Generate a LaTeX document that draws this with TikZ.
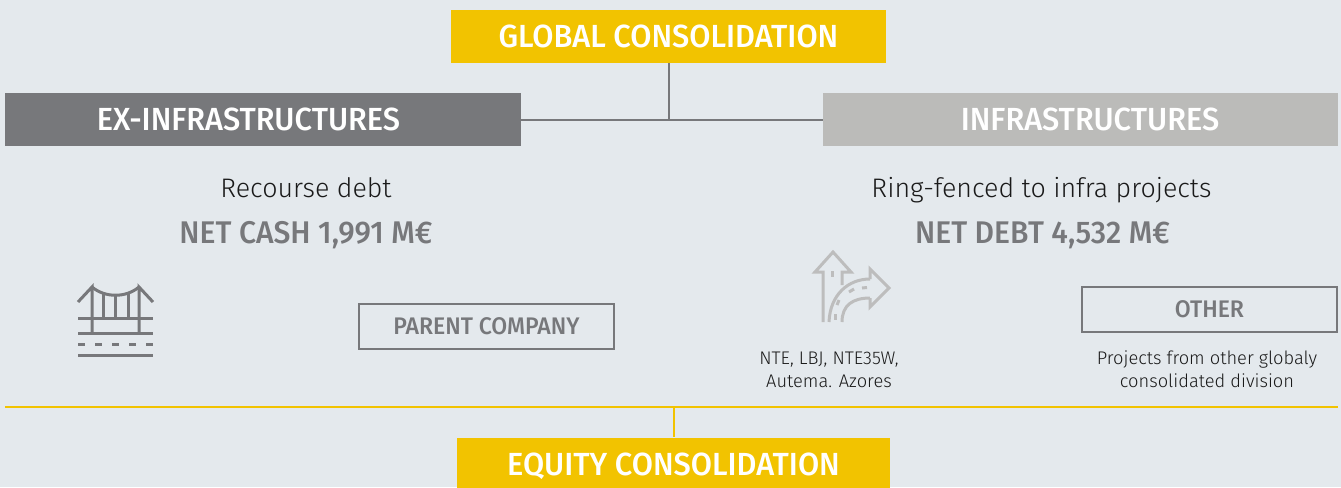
\documentclass[tikz,border=0pt]{standalone}
\usepackage{fontspec}
\setmainfont{Fira Sans}
\newfontfamily\medfont{Fira Sans Medium}[FakeStretch=0.96]
\newfontfamily\lightfont{Fira Sans Light}
\definecolor{bgc}{HTML}{E4E9ED}
\definecolor{ylw}{HTML}{F2C300}
\definecolor{dgrey}{HTML}{77787B}
\definecolor{lgrey}{HTML}{BBBBB9}
\definecolor{icong}{HTML}{BDBDBD}
\definecolor{txt}{HTML}{1A1A1A}
\tikzset{
  hdr/.style={inner sep=0pt, text=white, text height=16.5pt, text depth=0pt,
    font=\medfont\fontsize{24}{28}\selectfont},
  ybox/.style={hdr, fill=ylw, minimum width=326pt, minimum height=39.75pt},
  dbox/.style={hdr, fill=dgrey, minimum width=387pt, minimum height=39.75pt},
  lbox/.style={hdr, fill=lgrey, minimum width=386.25pt, minimum height=39.75pt},
  obox/.style={draw=dgrey, line width=1.5pt, inner sep=0pt, text=dgrey,
    text height=12.5pt, text depth=0pt, minimum width=191.25pt, minimum height=33.75pt,
    font=\medfont\fontsize{18}{21}\selectfont},
  lead/.style={anchor=base, inner sep=0pt, text=txt, font=\lightfont\fontsize{20.1}{24}\selectfont},
  figure/.style={anchor=base, inner sep=0pt, text=dgrey, font=\medfont\fontsize{23.5}{26}\selectfont},
  small/.style={inner sep=0pt, text=txt, align=center, font=\lightfont\fontsize{13.7}{17.25}\selectfont},
  conn/.style={draw=dgrey, line width=1.5pt},
  yconn/.style={draw=ylw, line width=1.5pt},
  ico/.style={line width=2.25pt, line join=miter},
}
\begin{document}
\begin{tikzpicture}[x=0.75pt,y=-0.75pt]
\fill[bgc] (0,0) rectangle (1341,487);
\useasboundingbox (0,0) rectangle (1341,487);

% header boxes
\node[ybox] (global) at (668.5,36.5) {GLOBAL CONSOLIDATION};
\node[dbox] (exinfra) at (263,119.5) {};
\node[hdr] (exinfratxt) at (248.5,119.5) {EX-INFRASTRUCTURES};
\node[lbox] (infra) at (1080.5,119.5) {};
\node[hdr] (infratxt) at (1090,119.5) {INFRASTRUCTURES};
\draw[conn] (global.south) -- (global.south |- exinfra.east);
\draw[conn] (exinfra.east) -- (infra.west);

% left column
\node[lead] (recourse) at (306,197) {Recourse debt};
\node[figure] (netcash) at (306,243) {NET CASH 1,991 M€};
\node[obox] (parent) at (486.5,326.5) {PARENT COMPANY};

% right column
\node[lead] (ring) at (1041.5,197) {Ring-fenced to infra projects};
\node[figure] (netdebt) at (1042.5,243) {NET DEBT 4,532 M€};
\node[obox] (other) at (1209.5,309) {OTHER};
\node[small] (nte) at (829,370) {NTE, LBJ, NTE35W,\\Autema. Azores};
\node[small] (proj) at (1207,369) {Projects from other globaly\\consolidated division};

% bridge icon
\begin{scope}[ico, draw=dgrey]
\draw (78,302) -- (92,287) -- (92,333);
\draw (153,302) -- (139,287) -- (139,333);
\draw (92,287) .. controls (105,298) and (126,298) .. (139,287);
\draw (103,293) -- (103,318);
\draw (115.5,295.5) -- (115.5,318);
\draw (128,293) -- (128,318);
\draw (78,318) -- (153,318);
\draw (78,333) -- (153,333);
\foreach \a in {78,95,112,129,146} \draw (\a,344) -- (\a+7,344);
\draw (78,355) -- (153,355);
\end{scope}

% road icon
\begin{scope}[ico, draw=icong]
\draw (823,322) -- (823,272) -- (815,272) -- (833,252) -- (851,272) -- (842,272) -- (842,285);
\draw (829,322) .. controls (830,295) and (848,279) .. (870,279);
\draw (842,322) .. controls (842,305) and (853,298) .. (870,298);
\draw (870,279) -- (870,269) -- (889,288) -- (870,307) -- (870,298);
\draw (832.5,271) -- (832.5,277);
\draw (835.5,314) -- (835.5,320);
\draw (837,305) -- (839,300);
\draw (849,292) -- (854,289);
\draw (862,288) -- (867,287.5);
\end{scope}

% bottom
\coordinate (yl) at (5,407);
\coordinate (yr) at (1338,407);
\node[ybox, minimum width=324.75pt] (equity) at (673.5,464) {EQUITY CONSOLIDATION};
\draw[yconn] (yl) -- (yr);
\draw[yconn] (equity.north |- yl) -- (equity.north);
\end{tikzpicture}
\end{document}
